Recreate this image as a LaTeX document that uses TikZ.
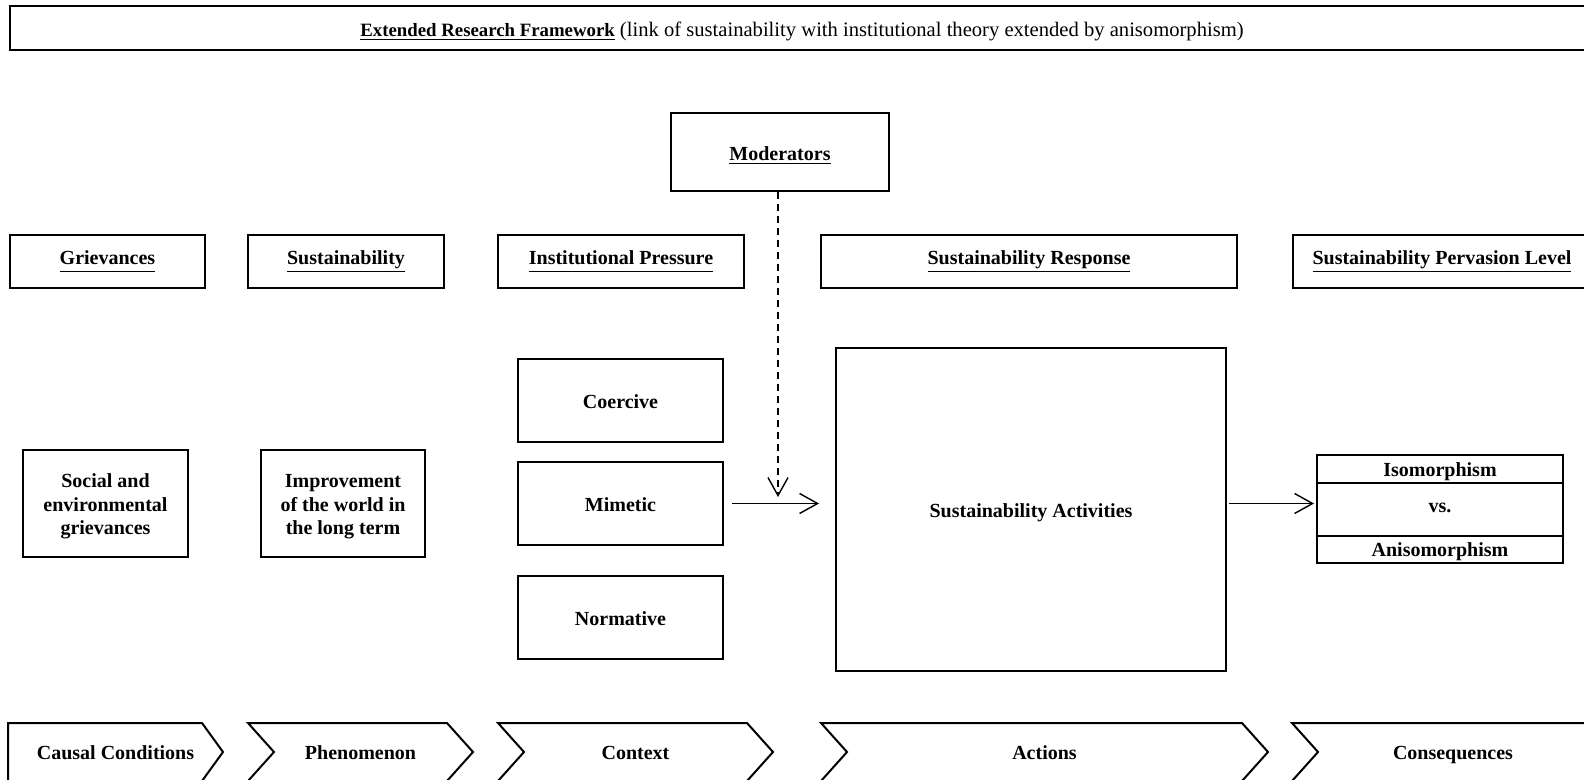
\documentclass[tikz,border=0pt]{standalone}
\usepackage{fontspec}
\setmainfont{Liberation Serif}
\usetikzlibrary{arrows.meta}
\newcommand{\hd}[1]{\underline{#1\vphantom{y}}}
\newcommand{\shiftdn}[2]{\raisebox{-#1}[\height][\depth]{#2}}
\begin{document}
\begin{tikzpicture}[x=0.5pt,y=-0.5pt,line width=1pt,
  frame/.style={draw,rectangle,inner sep=0pt,align=center,font=\bfseries\fontsize{10}{11.6}\selectfont},
  lbl/.style={inner sep=0pt,text height=7pt,text depth=0pt,font=\bfseries\fontsize{10}{12}\selectfont},
  arr/.style={line width=0.7pt,-{Straight Barb[length=9pt,width=10pt]}}]
\useasboundingbox (0,0) rectangle (1584,780);
\clip (0,0) rectangle (1584,780);
\node[frame,minimum width=792pt,minimum height=22pt,font=\fontsize{10.3}{12}\selectfont] (title) at (802,28) {\shiftdn{1.5pt}{{\fontsize{9.4}{12}\selectfont\bfseries\underline{Extended Research Framework}} (link of sustainability with institutional theory extended by anisomorphism)}};
\node[frame,minimum width=109pt,minimum height=39pt] (mod) at (780,152) {\shiftdn{2pt}{\underline{Moderators}}};
\node[frame,minimum width=97.5pt,minimum height=26.5pt] (griev) at (107.5,261.5) {\hd{Grievances}};
\node[frame,minimum width=98pt,minimum height=26.5pt] (sust) at (346,261.5) {\hd{Sustainability}};
\node[frame,minimum width=123pt,minimum height=26.5pt] (inst) at (621,261.5) {\hd{Institutional Pressure}};
\node[frame,minimum width=208pt,minimum height=26.5pt] (resp) at (1029,261.5) {\hd{Sustainability Response}};
\node[frame,minimum width=149pt,minimum height=26.5pt] (perv) at (1442,261.5) {\hd{Sustainability Pervasion Level}};
\node[frame,minimum width=82.5pt,minimum height=53.5pt] (soc) at (105.5,503.5) {\shiftdn{1.5pt}{\begin{tabular}{@{}c@{}}Social and\\environmental\\grievances\end{tabular}}};
\node[frame,minimum width=82pt,minimum height=53.5pt] (impr) at (343,503.5) {\shiftdn{1.5pt}{\begin{tabular}{@{}c@{}}Improvement\\of the world in\\the long term\end{tabular}}};
\node[frame,minimum width=102.5pt,minimum height=41.5pt] (coer) at (620.5,400.5) {\shiftdn{0.5pt}{Coercive}};
\node[frame,minimum width=102.5pt,minimum height=41.5pt] (mim) at (620.5,503.5) {\shiftdn{0.5pt}{Mimetic}};
\node[frame,minimum width=102.5pt,minimum height=41.5pt] (norm) at (620.5,617) {\shiftdn{1pt}{Normative}};
\node[frame,minimum width=195pt,minimum height=161.5pt] (act) at (1031,509.5) {\shiftdn{1.5pt}{Sustainability Activities}};
\node[frame,minimum width=123pt,minimum height=14pt] (iso) at (1440,469) {\shiftdn{1.5pt}{Isomorphism}};
\node[frame,minimum width=123pt,minimum height=26.5pt] (vs) at (1440,509.5) {\shiftdn{-1pt}{vs.}};
\node[frame,minimum width=123pt,minimum height=13.5pt] (aniso) at (1440,549.5) {\shiftdn{1pt}{Anisomorphism}};
\coordinate (tip) at (778,497);
\draw[arr,dash pattern=on 3.5pt off 2.5pt] (mod.south -| tip) -- (tip);
\draw[arr,shorten <=4pt,shorten >=8pt] (mim.east) -- (mim.east -| act.west);
\draw[arr,shorten <=1pt,shorten >=1pt] (act.east |- mim.east) -- (vs.west |- mim.east);
\draw (8,723) -- (202,723) -- (223,752) -- (202,781) -- (8,781) -- cycle;
\draw (248,723) -- (447,723) -- (473,752) -- (447,781) -- (248,781) -- (274,752) -- cycle;
\draw (498,723) -- (747,723) -- (773,752) -- (747,781) -- (498,781) -- (524,752) -- cycle;
\draw (821,723) -- (1242,723) -- (1268,752) -- (1242,781) -- (821,781) -- (847,752) -- cycle;
\draw (1292,723) -- (1588,723) -- (1614,752) -- (1588,781) -- (1292,781) -- (1318,752) -- cycle;
\node[lbl] (causal) at (115.5,752) {Causal Conditions};
\node[lbl] (phen) at (360.5,752) {Phenomenon};
\node[lbl] (ctx) at (635.5,752) {Context};
\node[lbl] (actions) at (1044.5,752) {Actions};
\node[lbl] (cons) at (1453,752) {Consequences};
\end{tikzpicture}
\end{document}
